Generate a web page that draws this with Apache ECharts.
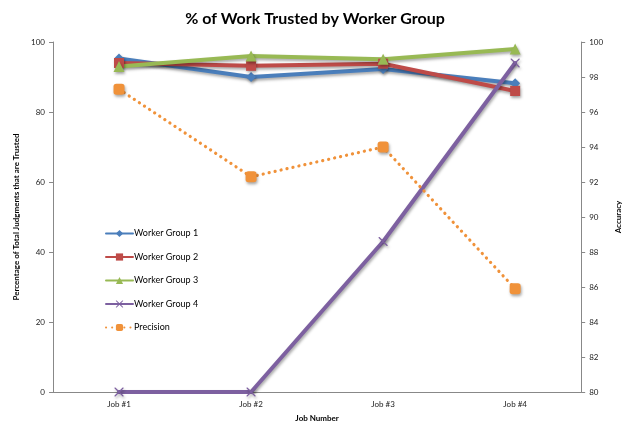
<!DOCTYPE html>
<html><head><meta charset="utf-8">
<script src="https://cdn.jsdelivr.net/npm/echarts@6/dist/echarts.min.js"></script>
<style>html,body{margin:0;padding:0;background:#fff}#c{width:630px;height:427px}</style>
</head><body><div id="c"></div>
<script>
const categories = ['Job #1', 'Job #2', 'Job #3', 'Job #4'];
const group1 = [95.3, 90, 92.3, 88.2];
const group2 = [94, 93.2, 93.8, 86];
const group3 = [93, 96, 95.1, 98];
const group4 = [0, 0, 43, 94];
const precision = [97.3, 92.3, 94, 85.9];
const leftTicks = [0, 100, 20];
const rightTicks = [80, 100, 2];

const font = 'Lato';
const chart = echarts.init(document.getElementById('c'));
const shadow = {shadowColor: 'rgba(0,0,0,0.35)', shadowBlur: 3, shadowOffsetX: 1, shadowOffsetY: 2};
function mk(name, data, color, symbol, size, yIndex, dotted) {
  return {
    name, type: 'line', data, yAxisIndex: yIndex,
    symbol, symbolSize: size,
    lineStyle: Object.assign({color, width: dotted ? 3.2 : 4, type: dotted ? [0.1, 6] : 'solid', cap: 'round'}, dotted ? {} : shadow),
    itemStyle: Object.assign({color, borderWidth: 0}, shadow),
    emphasis: {disabled: true}, animation: false
  };
}
const cross = 'path://M0,0L1,0L5,4L9,0L10,0L10,1L6,5L10,9L10,10L9,10L5,6L1,10L0,10L0,9L4,5L0,1Z';
chart.setOption({
  animation: false,
  title: {text: '% of Work Trusted by Worker Group', left: 'center', top: 6,
    textStyle: {fontFamily: font, fontSize: 16, fontWeight: 'bold', color: '#000'}},
  legend: {
    orient: 'vertical', left: 100, top: 224, itemWidth: 27, itemHeight: 9, itemGap: 14.5,
    textStyle: {fontFamily: font, fontSize: 9, color: '#000', padding: [0, 0, 0, -4]},
    data: ['Worker Group 1', 'Worker Group 2', 'Worker Group 3', 'Worker Group 4', 'Precision']
  },
  grid: {left: 53, right: 45, top: 42, bottom: 35},
  xAxis: {
    type: 'category', data: categories, boundaryGap: true,
    name: 'Job Number', nameLocation: 'middle', nameGap: 22,
    nameTextStyle: {fontFamily: font, fontSize: 8, fontWeight: 'bold', color: '#000'},
    axisLine: {lineStyle: {color: '#888', width: 1}},
    axisTick: {show: false},
    axisLabel: {fontFamily: font, fontSize: 8, color: '#222', margin: 8}
  },
  yAxis: [{
    type: 'value', min: leftTicks[0], max: leftTicks[1], interval: leftTicks[2],
    name: 'Percentage of Total Judgments that are Trusted', nameLocation: 'middle', nameGap: 28, nameRotate: 90,
    nameTextStyle: {fontFamily: font, fontSize: 8, fontWeight: 'bold', color: '#000'},
    axisLine: {show: true, lineStyle: {color: '#888'}},
    axisTick: {show: true, length: 4, lineStyle: {color: '#888'}},
    axisLabel: {fontFamily: font, fontSize: 8, color: '#222', margin: 8},
    splitLine: {show: false}
  }, {
    type: 'value', min: rightTicks[0], max: rightTicks[1], interval: rightTicks[2], position: 'right',
    name: 'Accuracy', nameLocation: 'middle', nameGap: 28, nameRotate: 90,
    nameTextStyle: {fontFamily: font, fontSize: 8, fontWeight: 'bold', color: '#000'},
    axisLine: {show: true, lineStyle: {color: '#888'}},
    axisTick: {show: true, length: 4, lineStyle: {color: '#888'}},
    axisLabel: {fontFamily: font, fontSize: 8, color: '#222', margin: 8},
    splitLine: {show: false}
  }],
  series: [
    mk('Worker Group 1', group1, '#4a7ebb', 'diamond', 10, 0, false),
    mk('Worker Group 2', group2, '#be4b48', 'rect', 10, 0, false),
    mk('Worker Group 3', group3, '#98b954', 'triangle', 11, 0, false),
    mk('Worker Group 4', group4, '#7d60a0', cross, 9, 0, false),
    mk('Precision', precision, '#f0923a', 'roundRect', 11, 1, true)
  ]
});
</script></body></html>
